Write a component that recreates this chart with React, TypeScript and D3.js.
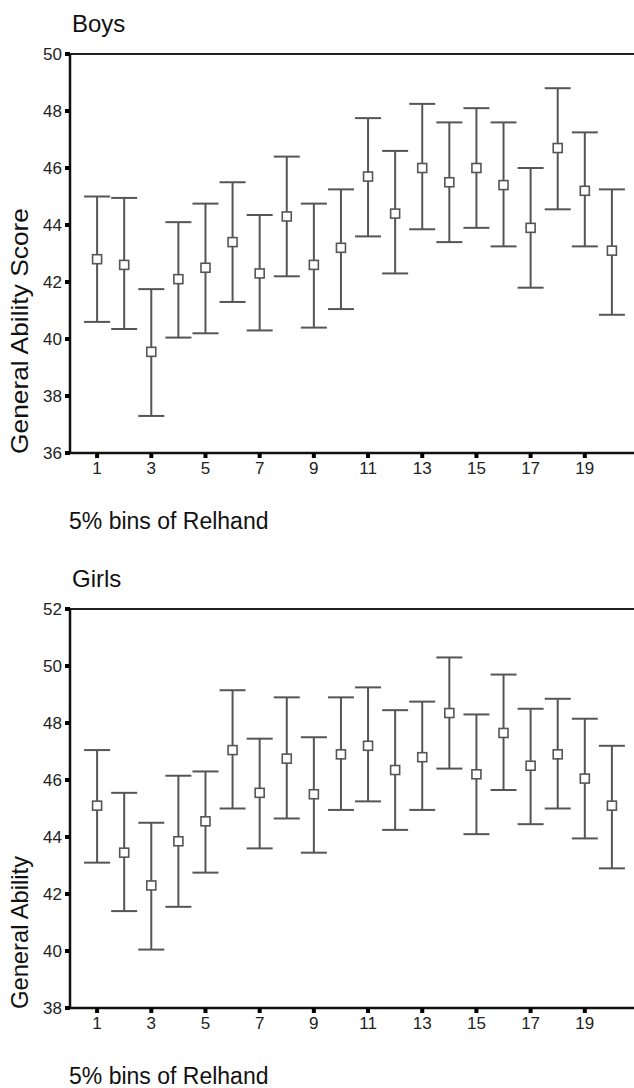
import React, { useEffect, useRef } from 'react';
import * as d3 from 'd3';

// bins 1..20
const bins = [1, 2, 3, 4, 5, 6, 7, 8, 9, 10, 11, 12, 13, 14, 15, 16, 17, 18, 19, 20];

const boysMean = [42.8, 42.6, 39.55, 42.1, 42.5, 43.4, 42.3, 44.3, 42.6, 43.2, 45.7, 44.4, 46.0, 45.5, 46.0, 45.4, 43.9, 46.7, 45.2, 43.1];
const boysUpper = [45.0, 44.95, 41.75, 44.1, 44.75, 45.5, 44.35, 46.4, 44.75, 45.25, 47.75, 46.6, 48.25, 47.6, 48.1, 47.6, 46.0, 48.8, 47.25, 45.25];
const boysLower = [40.6, 40.35, 37.3, 40.05, 40.2, 41.3, 40.3, 42.2, 40.4, 41.05, 43.6, 42.3, 43.85, 43.4, 43.9, 43.25, 41.8, 44.55, 43.25, 40.85];

const girlsMean = [45.1, 43.45, 42.3, 43.85, 44.55, 47.05, 45.55, 46.75, 45.5, 46.9, 47.2, 46.35, 46.8, 48.35, 46.2, 47.65, 46.5, 46.9, 46.05, 45.1];
const girlsUpper = [47.05, 45.55, 44.5, 46.15, 46.3, 49.15, 47.45, 48.9, 47.5, 48.9, 49.25, 48.45, 48.75, 50.3, 48.3, 49.7, 48.5, 48.85, 48.15, 47.2];
const girlsLower = [43.1, 41.4, 40.05, 41.55, 42.75, 45.0, 43.6, 44.65, 43.45, 44.95, 45.25, 44.25, 44.95, 46.4, 44.1, 45.65, 44.45, 45.0, 43.95, 42.9];

const xTicks = [1, 3, 5, 7, 9, 11, 13, 15, 17, 19];
const boysYTicks = [36, 38, 40, 42, 44, 46, 48, 50];
const girlsYTicks = [38, 40, 42, 44, 46, 48, 50, 52];

const W = 634;
const H = 1088;
const font = 'Liberation Sans, Arial, sans-serif';
const barColor = '#555';

interface PanelOpts {
  title: string;
  yLabel: string;
  yLabelLen: number;
  mean: number[];
  upper: number[];
  lower: number[];
  yDomain: [number, number];
  yTicks: number[];
  top: number;
  bottom: number;
}

const App: React.FC = () => {
  const ref = useRef<SVGSVGElement>(null);

  useEffect(() => {
    const svg = d3.select(ref.current);
    svg.html('');
    svg.append('rect').attr('width', W).attr('height', H).attr('fill', '#fff');

    const x = d3.scaleLinear().domain([0, 21]).range([70, 639]);
    const left = 70;

    const drawPanel = (o: PanelOpts) => {
      const y = d3.scaleLinear().domain(o.yDomain).range([o.bottom, o.top]);
      const g = svg.append('g');

      // title
      g.append('text')
        .attr('x', 72)
        .attr('y', o.top - 22)
        .attr('font-family', font)
        .attr('font-size', 24)
        .attr('fill', '#111')
        .text(o.title);

      // top frame line
      g.append('line')
        .attr('x1', left).attr('x2', W)
        .attr('y1', o.top).attr('y2', o.top)
        .attr('stroke', '#222').attr('stroke-width', 2);

      // axes
      g.append('line')
        .attr('x1', left).attr('x2', left)
        .attr('y1', o.top).attr('y2', o.bottom)
        .attr('stroke', '#111').attr('stroke-width', 2.5);
      g.append('line')
        .attr('x1', left - 2).attr('x2', W)
        .attr('y1', o.bottom).attr('y2', o.bottom)
        .attr('stroke', '#111').attr('stroke-width', 2.5);

      // y ticks
      g.selectAll('rect.yt')
        .data(o.yTicks)
        .enter()
        .append('rect')
        .attr('x', left - 5)
        .attr('y', d => y(d) - 2)
        .attr('width', 5)
        .attr('height', 4)
        .attr('fill', '#000');
      g.selectAll('text.yl')
        .data(o.yTicks)
        .enter()
        .append('text')
        .attr('x', 62)
        .attr('y', d => y(d))
        .attr('dy', '0.35em')
        .attr('text-anchor', 'end')
        .attr('font-family', font)
        .attr('font-size', 17)
        .attr('fill', '#222')
        .text(d => d);

      // x ticks
      g.selectAll('rect.xt')
        .data(xTicks)
        .enter()
        .append('rect')
        .attr('x', d => x(d) - 2)
        .attr('y', o.bottom)
        .attr('width', 4)
        .attr('height', 5)
        .attr('fill', '#000');
      g.selectAll('text.xl')
        .data(xTicks)
        .enter()
        .append('text')
        .attr('x', d => x(d))
        .attr('y', o.bottom + 21)
        .attr('text-anchor', 'middle')
        .attr('font-family', font)
        .attr('font-size', 17)
        .attr('fill', '#222')
        .text(d => d);

      // axis titles
      g.append('text')
        .attr('x', 69)
        .attr('y', o.bottom + 76)
        .attr('font-family', font)
        .attr('font-size', 23)
        .attr('fill', '#111')
        .text('5% bins of Relhand');

      g.append('text')
        .attr('transform', `translate(28, ${o.bottom + 1}) rotate(-90)`)
        .attr('font-family', font)
        .attr('font-size', 24)
        .attr('textLength', o.yLabelLen)
        .attr('lengthAdjust', 'spacingAndGlyphs')
        .attr('fill', '#111')
        .text(o.yLabel);

      // error bars
      const bars = g.selectAll('g.bar')
        .data(bins)
        .enter()
        .append('g');

      bars.append('line')
        .attr('x1', d => x(d)).attr('x2', d => x(d))
        .attr('y1', (d, i) => y(o.upper[i]))
        .attr('y2', (d, i) => y(o.lower[i]))
        .attr('stroke', barColor).attr('stroke-width', 2);
      bars.append('line')
        .attr('x1', d => x(d) - 13).attr('x2', d => x(d) + 13)
        .attr('y1', (d, i) => y(o.upper[i]))
        .attr('y2', (d, i) => y(o.upper[i]))
        .attr('stroke', barColor).attr('stroke-width', 2);
      bars.append('line')
        .attr('x1', d => x(d) - 13).attr('x2', d => x(d) + 13)
        .attr('y1', (d, i) => y(o.lower[i]))
        .attr('y2', (d, i) => y(o.lower[i]))
        .attr('stroke', barColor).attr('stroke-width', 2);
      bars.append('rect')
        .attr('x', d => x(d) - 4.5)
        .attr('y', (d, i) => y(o.mean[i]) - 4.5)
        .attr('width', 9)
        .attr('height', 9)
        .attr('fill', '#fff')
        .attr('stroke', barColor)
        .attr('stroke-width', 1.6);
    };

    drawPanel({
      title: 'Boys',
      yLabel: 'General Ability Score',
      yLabelLen: 246,
      mean: boysMean,
      upper: boysUpper,
      lower: boysLower,
      yDomain: [36, 50],
      yTicks: boysYTicks,
      top: 54,
      bottom: 453,
    });

    drawPanel({
      title: 'Girls',
      yLabel: 'General Ability',
      yLabelLen: 153,
      mean: girlsMean,
      upper: girlsUpper,
      lower: girlsLower,
      yDomain: [38, 52],
      yTicks: girlsYTicks,
      top: 609,
      bottom: 1008,
    });
  }, []);

  return (
    <svg
      ref={ref}
      width={W}
      height={H}
      style={{ position: 'absolute', left: 0, top: 0 }}
    />
  );
};

export default App;
